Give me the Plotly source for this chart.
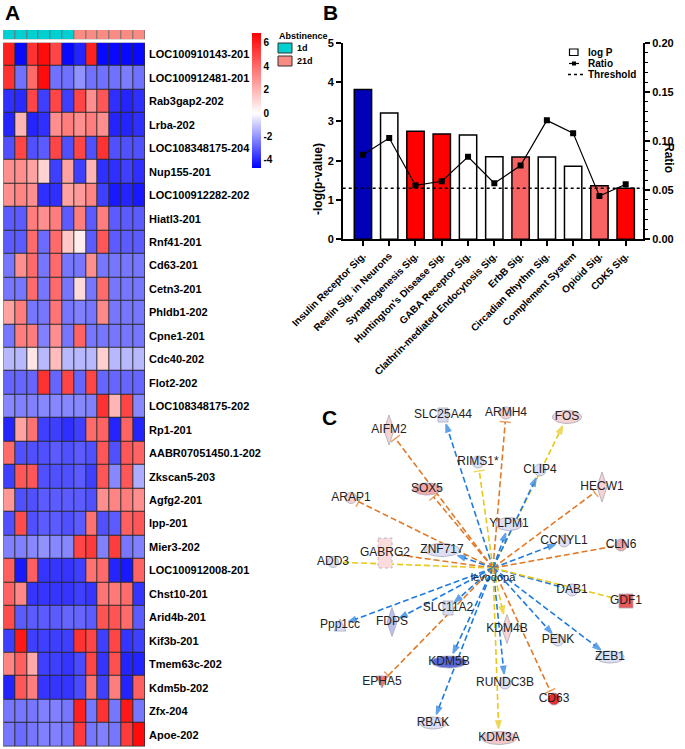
import math
import plotly.graph_objects as go

W, H = 685, 749
FONT = "Liberation Sans, Arial, sans-serif"


def PX(x):
    return x / W


def PY(y):
    return 1 - y / H


# ---------------- Panel A data ----------------
genes = ["LOC100910143-201", "LOC100912481-201", "Rab3gap2-202", "Lrba-202",
         "LOC108348175-204", "Nup155-201", "LOC100912282-202", "Hiatl3-201",
         "Rnf41-201", "Cd63-201", "Cetn3-201", "Phldb1-202", "Cpne1-201",
         "Cdc40-202", "Flot2-202", "LOC108348175-202", "Rp1-201",
         "AABR07051450.1-202", "Zkscan5-203", "Agfg2-201", "Ipp-201",
         "Mier3-202", "LOC100912008-201", "Chst10-201", "Arid4b-201",
         "Kif3b-201", "Tmem63c-202", "Kdm5b-202", "Zfx-204", "Apoe-202"]

heat = [
    [6.0, -4.5, 5.5, 6.5, 5.0, -4.5, -4.0, 6.0, -4.5, -4.5, -4.5, -4.5],
    [5.5, -2.6, 4.0, 6.5, -2.6, -2.6, -2.0, -2.6, -2.6, -2.6, -2.4, -2.6],
    [-3.8, -3.9, 5.0, -3.5, 5.0, -3.5, 5.0, 3.0, 4.5, -3.8, -4.0, -3.8],
    [-4.0, 2.0, -4.0, -3.8, 3.0, 3.5, 3.0, 3.5, 3.0, -4.0, -4.0, -3.8],
    [-3.2, 5.0, -3.2, -3.0, 5.0, -3.2, 5.0, -3.2, 5.5, -3.2, -3.2, -3.2],
    [3.0, 3.0, 2.5, 1.2, -3.5, 2.5, -3.5, 2.0, -3.8, -3.8, -3.5, -3.8],
    [3.0, 3.3, 3.0, -3.8, -3.8, 2.5, 2.7, 3.3, -3.5, -4.2, -4.0, -4.2],
    [-3.0, -3.0, 3.5, 3.0, 3.5, -3.0, 3.5, -3.0, 3.5, -3.0, -3.0, -3.0],
    [-3.0, -3.0, 4.0, -2.7, 4.0, 1.5, 0.5, -3.0, 4.5, -3.0, -3.0, -3.0],
    [-2.5, 3.0, 4.0, -2.5, 4.0, -2.5, -2.5, 3.0, -2.5, -2.5, -2.5, -2.5],
    [-2.5, -2.5, 4.0, -2.5, 4.0, -2.5, 1.0, -2.5, 4.0, -2.5, -2.5, -2.5],
    [2.5, 3.5, -2.5, -2.5, 3.7, -2.5, -2.3, -2.5, 3.2, -2.5, -2.5, -2.5],
    [-2.5, 3.5, 3.5, -2.3, 3.0, -2.5, 4.2, -2.5, -2.5, -2.5, -2.5, -2.5],
    [-1.3, -1.3, 0.7, -1.3, 1.8, -1.3, -1.3, -1.3, 1.3, -1.3, -1.3, -1.3],
    [-2.8, -2.8, -2.8, 5.5, -2.8, 5.0, -2.8, 5.0, -2.8, -2.8, -2.8, -2.8],
    [-2.2, -2.3, -2.3, -2.2, -2.2, -2.2, -2.2, -2.3, 5.5, 2.0, 5.0, -2.2],
    [-4.0, 2.5, 3.8, -3.5, -3.5, -3.8, -3.5, 4.0, 4.2, -4.0, 4.2, -4.0],
    [4.0, -3.2, -3.2, -3.2, -3.0, -3.2, -3.0, -3.2, 4.5, -3.2, 4.5, 4.2],
    [-3.5, 4.5, 4.5, -3.2, -3.2, -3.2, -3.0, -3.5, 4.5, -2.2, 4.5, -1.5],
    [2.8, -3.2, -3.2, -3.0, -3.0, -3.0, -3.0, -3.2, 3.0, 3.3, 3.5, 3.0],
    [-3.2, 4.8, -3.2, -3.0, -3.0, -3.2, -3.0, 3.8, -3.2, -3.0, 4.3, 4.5],
    [-2.3, -2.3, -2.2, -2.0, -2.2, -2.2, 5.0, 5.3, -2.3, 5.2, -2.5, -2.3],
    [4.3, -4.2, 4.3, -3.7, -3.7, -3.7, -3.5, 3.8, 4.0, -4.0, -4.2, 4.2],
    [4.2, 3.2, -3.7, -3.7, -3.7, -3.7, -3.5, -3.7, 3.7, 3.6, 4.0, -3.7],
    [4.8, -3.0, -3.0, -3.0, -3.0, -2.8, -2.8, -3.0, 4.6, 4.6, 4.0, -3.0],
    [-3.5, 6.2, -3.5, -3.5, -3.5, -3.5, 5.5, 5.0, -3.5, 5.0, -3.7, -3.5],
    [3.3, 4.3, 2.3, -3.5, -3.5, -3.7, -3.3, 5.0, -3.7, 4.7, -4.0, -4.0],
    [-4.0, 4.5, 3.5, -3.7, -3.7, -3.7, -3.3, 3.8, -3.5, 3.5, -4.0, 4.3],
    [-2.5, -2.5, -2.5, -2.3, -2.3, -2.5, 6.0, -2.5, 5.5, -2.5, 6.2, -2.5],
    [-2.5, -2.7, -2.5, -2.3, -2.3, -2.5, 5.3, -2.5, -2.3, -2.5, 5.3, 6.5],
]
samples = list(range(12))
group_labels = ["1d", "21d"]
group_of_sample = [0] * 6 + [1] * 6
group_colors = ["#00D0D2", "#F88C82"]
zmin, zmax = -4.66, 6.85
cbar_ticks = [-4, -2, 0, 2, 4, 6]
cbar_ticktext = ["-4", "-2", "0", "2", "4", "6"]

# ---------------- Panel B data ----------------
pathways = ["Insulin Receptor Sig.", "Reelin Sig. in Neurons", "Synaptogenesis Sig.",
            "Huntington's Disease Sig.", "GABA Receptor Sig.",
            "Clathrin-mediated Endocytosis Sig.", "ErbB Sig.", "Circadian Rhythm Sig.",
            "Complement System", "Opioid Sig.", "CDK5 Sig."]
logp = [3.81, 3.21, 2.75, 2.68, 2.65, 2.10, 2.09, 2.09, 1.86, 1.36, 1.30]
ratio = [0.086, 0.103, 0.055, 0.059, 0.084, 0.057, 0.075, 0.121, 0.108, 0.044, 0.056]
bar_colors = ["#0000B8", "#FFFFFF", "#FF0000", "#FF0000", "#FFFFFF", "#FFFFFF",
              "#F86464", "#FFFFFF", "#FFFFFF", "#F86464", "#FF0000"]
threshold = 1.3

# ---------------- Panel C data (network, pixel layout) ----------------
hub_name = "levodopa"
hub_x, hub_y = 493, 568
node_name = ["AIFM2", "SLC25A44", "ARMH4", "FOS", "RIMS1*", "CLIP4", "HECW1", "SOX5",
             "ARAP1", "YLPM1", "CCNYL1", "CLN6", "ZNF717", "GABRG2", "ADD3", "DAB1",
             "GDF1", "SLC11A2", "FDPS", "Ppp1cc", "KDM4B", "PENK", "ZEB1", "KDM5B",
             "EPHA5", "RUNDC3B", "CD63", "RBAK", "KDM3A"]
node_x = [389, 443, 506, 567, 478, 540, 602, 427, 351, 509, 564, 621, 442, 385, 333,
          572, 626, 448, 392, 340, 507, 558, 610, 449, 382, 505, 554, 433, 499]
node_y = [430, 415, 413, 417, 462, 470, 487, 489, 498, 524, 541, 545, 550, 553, 562,
          590, 601, 608, 622, 625, 629, 640, 657, 662, 682, 683, 699, 723, 738]
node_shape = ["diamond", "rect", "ellipse", "ellipse", "ellipse", "ellipse", "diamond",
              "ellipse", "ellipse", "ellipse", "ellipse", "ellipse", "ellipse", "rect",
              "ellipse", "ellipse", "rect", "rect", "diamond", "tri-up", "diamond",
              "ellipse", "ellipse", "ellipse", "tri-down", "ellipse", "ellipse",
              "ellipse", "ellipse"]
node_w = [10, 10, 12, 29, 12, 12, 10, 28, 11, 27, 12, 12, 35, 14, 11, 12, 14, 10, 10,
          12, 10, 12, 28, 35, 12, 12, 12, 27, 35]
node_h = [30, 14, 12, 13, 12, 12, 30, 12, 11, 13, 12, 12, 13, 30, 11, 12, 14, 14, 29,
          12, 29, 12, 12, 12, 12, 12, 12, 12, 13]
node_fill = ["#F6D2D2", "#D8DCF2", "#F6D2D2", "#F6D2D2", "#DDE0F5", "#DDE0F5", "#F6D2D2",
             "#F0A8A8", "#F6D2D2", "#DDE0F5", "#DDE0F5", "#F0A4A4", "#DDE0F5", "#FADCDC",
             "#DDE0F5", "#DDE0F5", "#E85858", "#D8DCF2", "#B8C0F0", "#DDE0F5", "#F6D2D2",
             "#DDE0F5", "#DDE0F5", "#5A6AD8", "#F07070", "#DDE0F5", "#E83030", "#DDE0F5",
             "#F6C8C8"]
edge_kind = ["orange", "blue", "orange", "yellow", "yellow", "blue", "orange", "orange",
             "orange", "blue", "blue", "orange", "blue", "orange", "yellow", "blue",
             "yellow", "blue", "blue", "blue", "yellow", "blue", "blue", "blue",
             "orange", "blue", "orange", "blue", "yellow"]
edge_end = ["bar", "arrow", "bar", "arrow", "bar", "arrow", "bar", "bar", "bar", "arrow",
            "arrow", "none", "arrow", "none", "none", "none", "none", "arrow", "arrow",
            "arrow", "arrow", "arrow", "arrow", "arrow", "bar", "arrow", "bar", "arrow",
            "arrow"]
edge_colors = {"blue": "#1F7BE0", "orange": "#E07A28", "yellow": "#E8C818"}

fig = go.Figure()

# ---------- Panel A ----------
fig.add_trace(go.Heatmap(
    z=heat, x=samples, y=genes, xaxis="x", yaxis="y",
    colorscale=[[0, "rgb(0,0,255)"], [(-zmin) / (zmax - zmin), "rgb(255,255,255)"],
                [1, "rgb(255,0,0)"]],
    zmin=zmin, zmax=zmax, xgap=1, ygap=1, hoverinfo="skip",
    colorbar=dict(x=PX(252), xanchor="left", y=PY(100.2), yanchor="middle",
                  len=135 / H, lenmode="fraction", thickness=9, outlinewidth=0,
                  xpad=0, ypad=0,
                  tickvals=cbar_ticks, ticktext=cbar_ticktext, ticks="",
                  ticklabelposition="outside",
                  tickfont=dict(family=FONT, size=10, color="black", weight="bold")),
))
fig.add_trace(go.Heatmap(
    z=[group_of_sample], x=samples, y=["grp"], xaxis="x", yaxis="y2",
    colorscale=[[0, group_colors[0]], [0.5, group_colors[0]], [0.5, group_colors[1]],
                [1, group_colors[1]]],
    zmin=0, zmax=1, showscale=False, xgap=1, hoverinfo="skip",
))

# ---------- Panel B ----------
fig.add_trace(go.Bar(
    x=pathways, y=logp, xaxis="x3", yaxis="y3", marker=dict(color=bar_colors,
    line=dict(color="black", width=1.5)), width=0.66, showlegend=False, hoverinfo="skip"))
fig.add_trace(go.Scatter(
    x=pathways, y=ratio, xaxis="x3", yaxis="y4", mode="lines+markers",
    line=dict(color="black", width=1.2), marker=dict(symbol="square", size=6, color="black"),
    showlegend=False, hoverinfo="skip"))

# ---------- Panel C ----------
for i, nm in enumerate(node_name):
    nx, ny = node_x[i], node_y[i]
    dx, dy = hub_x - nx, hub_y - ny
    d = math.hypot(dx, dy)
    ux, uy = dx / d, dy / d
    a, b = node_w[i] / 2, node_h[i] / 2
    gap = 1 / math.sqrt((ux / a) ** 2 + (uy / b) ** 2) + 3
    ex, ey = nx + ux * gap, ny + uy * gap
    col = edge_colors[edge_kind[i]]
    sym = {"arrow": "arrow", "bar": "line-ew", "none": "circle"}[edge_end[i]]
    size = {"arrow": 8, "bar": 8, "none": 0}[edge_end[i]]
    fig.add_trace(go.Scatter(
        x=[hub_x, ex], y=[hub_y, ey], xaxis="x4", yaxis="y5", mode="lines+markers",
        line=dict(color=col, width=1.6, dash="6px,3px"),
        marker=dict(symbol=["circle", sym], size=[0, size], color=col, angleref="previous",
                    line=dict(color=col, width=1.5)),
        showlegend=False, hoverinfo="skip"))

for i, nm in enumerate(node_name):
    nx, ny = node_x[i], node_y[i]
    a, b = node_w[i] / 2, node_h[i] / 2
    shp = node_shape[i]
    if shp == "ellipse":
        xs = [nx + a * math.cos(2 * math.pi * k / 40) for k in range(41)]
        ys = [ny + b * math.sin(2 * math.pi * k / 40) for k in range(41)]
    elif shp == "diamond":
        xs = [nx, nx + a, nx, nx - a, nx]
        ys = [ny - b, ny, ny + b, ny, ny - b]
    elif shp == "rect":
        xs = [nx - a, nx + a, nx + a, nx - a, nx - a]
        ys = [ny - b, ny - b, ny + b, ny + b, ny - b]
    elif shp == "tri-up":
        xs = [nx, nx + a, nx - a, nx]
        ys = [ny - b, ny + b, ny + b, ny - b]
    else:
        xs = [nx - a, nx + a, nx, nx - a]
        ys = [ny - b, ny - b, ny + b, ny - b]
    fig.add_trace(go.Scatter(
        x=xs, y=ys, xaxis="x4", yaxis="y5", mode="lines", fill="toself",
        fillcolor=node_fill[i], line=dict(color="#A8A8B8", width=0.8,
                                          dash="dot" if nm == "GABRG2" else "solid"),
        showlegend=False, hoverinfo="skip"))

fig.add_trace(go.Scatter(
    x=node_x, y=node_y, xaxis="x4", yaxis="y5", mode="text", text=node_name,
    textfont=dict(family=FONT, size=12, color="#222222"), showlegend=False, hoverinfo="skip"))
fig.add_trace(go.Scatter(
    x=[hub_x], y=[hub_y + 10], xaxis="x4", yaxis="y5", mode="text", text=[hub_name],
    textfont=dict(family=FONT, size=11, color="#222222"), showlegend=False, hoverinfo="skip"))

# ---------- shapes / annotations ----------
shapes = [
    dict(type="rect", xref="paper", yref="paper", x0=PX(3.3), x1=PX(145), y0=PY(746.5),
         y1=PY(42.7), fillcolor="#2A2A2A", line=dict(width=0), layer="below"),
    dict(type="rect", xref="paper", yref="paper", x0=PX(3.3), x1=PX(145), y0=PY(39.3),
         y1=PY(30), fillcolor="#6E6E6E", line=dict(width=0), layer="below"),
    dict(type="line", xref="x3 domain", yref="y3", x0=0, x1=1, y0=threshold, y1=threshold,
         line=dict(color="black", width=1.5, dash="dot")),
    dict(type="rect", xref="paper", yref="paper", x0=PX(569.5), x1=PX(578), y0=PY(55.5),
         y1=PY(49), fillcolor="white", line=dict(color="black", width=1.2)),
    dict(type="line", xref="paper", yref="paper", x0=PX(569), x1=PX(579), y0=PY(63.5),
         y1=PY(63.5), line=dict(color="black", width=1.2)),
    dict(type="rect", xref="paper", yref="paper", x0=PX(572), x1=PX(576), y0=PY(65.5),
         y1=PY(61.5), fillcolor="black", line=dict(width=0)),
    dict(type="line", xref="paper", yref="paper", x0=PX(568), x1=PX(583), y0=PY(74.5),
         y1=PY(74.5), line=dict(color="black", width=1.5, dash="dot")),
]
for gi, gl in enumerate(group_labels):
    y0 = 43 + gi * 13
    shapes.append(dict(type="rect", xref="paper", yref="paper", x0=PX(278), x1=PX(292),
                       y0=PY(y0 + 10), y1=PY(y0), fillcolor=group_colors[gi],
                       line=dict(color="#333333", width=1)))

annotations = [
    dict(text="<b>A</b>", x=PX(3), y=PY(13), xanchor="left", yanchor="middle"),
    dict(text="<b>B</b>", x=PX(321), y=PY(13), xanchor="left", yanchor="middle"),
    dict(text="<b>C</b>", x=PX(320), y=PY(417), xanchor="left", yanchor="middle"),
]
for a in annotations:
    a.update(xref="paper", yref="paper", showarrow=False,
             font=dict(family=FONT, size=21, color="black"))
small = [
    ("<b>Abstinence</b>", 277, 36, 9),
    ("<b>1d</b>", 295, 48, 9),
    ("<b>21d</b>", 295, 61, 9),
    ("<b>log P</b>", 586, 52.5, 10),
    ("<b>Ratio</b>", 586, 63.5, 10),
    ("<b>Threshold</b>", 586, 74.5, 10),
]
for t, x, y, s in small:
    annotations.append(dict(text=t, x=PX(x), y=PY(y), xref="paper", yref="paper",
                            xanchor="left", yanchor="middle", showarrow=False,
                            font=dict(family=FONT, size=s, color="black")))
annotations.append(dict(text="<b>Ratio</b>", x=PX(678), y=PY(141), xref="paper",
                        yref="paper", showarrow=False, textangle=90,
                        font=dict(family=FONT, size=12, color="black")))
annotations.append(dict(text="<b>-log(p-value)</b>", x=PX(318), y=PY(141), xref="paper",
                        yref="paper", showarrow=False, textangle=-90,
                        font=dict(family=FONT, size=12, color="black")))

axis_common = dict(automargin=False, showgrid=False, zeroline=False)
fig.update_layout(
    width=W, height=H, margin=dict(l=0, r=0, t=0, b=0),
    paper_bgcolor="white", plot_bgcolor="rgba(0,0,0,0)",
    font=dict(family=FONT, color="black"),
    barmode="overlay",
    xaxis=dict(domain=[PX(3.3), PX(145)], range=[-0.5, 11.5], anchor="y", visible=False,
               **axis_common),
    yaxis=dict(domain=[PY(746.5), PY(42.7)], anchor="x", side="right", autorange="reversed",
               ticks="", showline=False, ticklabelstandoff=3,
               tickfont=dict(family=FONT, size=11, color="black", weight="bold"),
               **axis_common),
    yaxis2=dict(domain=[PY(39.3), PY(30)], anchor="x", visible=False, **axis_common),
    xaxis3=dict(domain=[PX(342.7), PX(643.3)], anchor="y3", type="category",
                range=[-0.77, 10.67], tickangle=-45, ticks="outside", ticklen=5,
                tickwidth=1.5, tickcolor="black", showline=True, linecolor="black",
                linewidth=1.5,
                tickfont=dict(family=FONT, size=10, color="black", weight="bold"),
                **axis_common),
    yaxis3=dict(domain=[PY(239.3), PY(42.7)], anchor="x3", range=[0, 5], dtick=1,
                ticks="outside", ticklen=5, tickwidth=1.5, tickcolor="black",
                showline=True, linecolor="black", linewidth=1.5,
                tickfont=dict(family=FONT, size=11, color="black", weight="bold"),
                **axis_common),
    yaxis4=dict(overlaying="y3", anchor="x3", side="right", range=[0, 0.2],
                tickvals=[0, 0.05, 0.10, 0.15, 0.20], tickformat=".2f",
                ticks="outside", ticklen=5, tickwidth=1.5, tickcolor="black",
                minor=dict(ticks="outside", dtick=0.01, ticklen=3, tickcolor="black",
                           tickwidth=1),
                showline=True, linecolor="black", linewidth=1.5,
                tickfont=dict(family=FONT, size=11, color="black", weight="bold"),
                **axis_common),
    xaxis4=dict(domain=[PX(300), 1], range=[300, 685], anchor="y5", visible=False,
                **axis_common),
    yaxis5=dict(domain=[0, PY(380)], range=[749, 380], anchor="x4", visible=False,
                **axis_common),
    shapes=shapes, annotations=annotations,
)

fig.write_html("out.html", config={"displayModeBar": False},
               post_script="document.body.style.margin='0px';document.body.style.overflow='hidden';")
